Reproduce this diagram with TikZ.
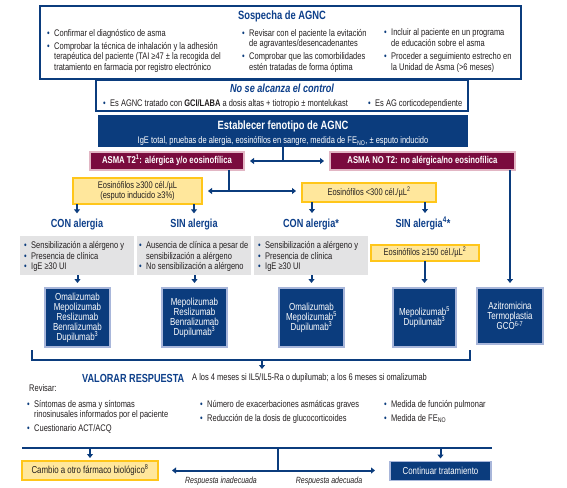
\documentclass[tikz,border=0pt]{standalone}
\usepackage{fontspec}
\setmainfont{Liberation Sans}[FakeStretch=0.78]
\usetikzlibrary{arrows.meta}
\definecolor{navy}{HTML}{0B3C7D}
\definecolor{tblue}{HTML}{0D3F8A}
\definecolor{maroon}{HTML}{7A0B3E}
\definecolor{pinkb}{HTML}{E2B6C4}
\definecolor{yelf}{HTML}{FFE79C}
\definecolor{yelb}{HTML}{FFC61A}
\definecolor{grayf}{HTML}{E3E3E4}
\definecolor{lav}{HTML}{A8B6DA}
\definecolor{txtc}{HTML}{231F20}
\newcommand\bu{\makebox[7pt][l]{\textcolor{navy}{\textbullet}}}
\newcommand\ind{\hspace*{7pt}}
\newcommand\fs[2]{\fontsize{#1}{#2}\selectfont}
\newcommand\sups[1]{\smash{\textsuperscript{#1}}}
\newcommand\subs[1]{\smash{\textsubscript{#1}}}
\begin{document}
\begin{tikzpicture}[x=1pt,y=-1pt,
  txt/.style={inner sep=0pt, anchor=north west, align=left, text=txtc, font=\fs{9.6}{10.7}, execute at begin node=\strut},
  box/.style={inner sep=0pt, outer sep=0pt},
  frame/.style={box, draw=navy, line width=1.4pt, fill=white},
  darkb/.style={box, fill=navy, draw=lav, line width=1.5pt, text=white, align=center, font=\fs{10.2}{10}},
  pinkbox/.style={box, fill=maroon, draw=pinkb, line width=1.8pt, text=white, font=\bfseries\fs{9.9}{10}},
  yelbox/.style={box, fill=yelf, draw=yelb, line width=1.8pt, text=txtc, align=center, font=\fs{9.6}{10.5}},
  graybox/.style={box, fill=grayf},
  lab/.style={inner sep=0pt, text=tblue, font=\bfseries\fs{11.7}{12}},
  conn/.style={draw=navy, line width=2pt},
  arr/.style={conn, -{Triangle[length=4pt,width=6pt]}},
  dbl/.style={conn, {Triangle[length=4pt,width=6pt]}-{Triangle[length=4pt,width=6pt]}}
]
\useasboundingbox[fill=white] (0,0) rectangle (567,487);

% top box
\node[frame, minimum width=481, minimum height=73] (top) at (280.5,42.5) {};
\node[lab, font=\bfseries\fs{12}{12}] (toptitle) at (282,16) {Sospecha de AGNC};
\node[txt] (c1a) at (47,28.8) {\bu Confirmar el diagnóstico de asma};
\node[txt] (c1b) at (47,41.8) {\bu Comprobar la técnica de inhalación y la adhesión\\\ind terapéutica del paciente (TAI ≥47 ± la recogida del\\\ind tratamiento en farmacia por registro electrónico};
\node[txt] (c2a) at (242,28.8) {\bu Revisar con el paciente la evitación\\\ind de agravantes/desencadenantes};
\node[txt] (c2b) at (242,52.8) {\bu Comprobar que las comorbilidades\\\ind estén tratadas de forma óptima};
\node[txt] (c3a) at (384,28.8) {\bu Incluir al paciente en un programa\\\ind de educación sobre el asma};
\node[txt] (c3b) at (384,52.8) {\bu Proceder a seguimiento estrecho en\\\ind la Unidad de Asma (>6 meses)};

% no se alcanza
\node[frame, minimum width=372, minimum height=31] (nose) at (282,95.5) {};
\draw[conn, line width=1.4pt] (top.south -| nose.north) -- (nose.north);
\node[lab, font=\bfseries\itshape\fs{11.7}{12}] (nosetitle) at (282,88) {No se alcanza el control};
\node[txt] (n1) at (103,98.8) {\bu Es AGNC tratado con \textbf{GCI/LABA} a dosis altas + tiotropio ± montelukast};
\node[txt] (n2) at (368,98.8) {\bu Es AG corticodependiente};

% fenotipo
\node[box, fill=navy, minimum width=370, minimum height=32] (fen) at (283,131) {};
\node[inner sep=0pt, text=white, font=\bfseries\fs{12}{12}] (fent) at (283,126) {Establecer fenotipo de AGNC};
\node[inner sep=0pt, text=white, font=\fs{9.6}{10}] (fens) at (283,141) {IgE total, pruebas de alergia, eosinófilos en sangre, medida de FE\subs{NO}, ± esputo inducido};

% T2 boxes
\node[pinkbox, minimum width=154, minimum height=18] (t2) at (167,161) {ASMA T2\sups{1}: alérgica y/o eosinofílica};
\node[pinkbox, minimum width=185, minimum height=18] (not2) at (422.5,161) {ASMA NO T2: no alérgica/no eosinofílica};
\draw[conn] (fen.south) -- (fen.south |- t2.east);
\draw[dbl] ([xshift=6pt]t2.east) -- ([xshift=-6pt]not2.west);

% eosinophil boxes
\node[yelbox, minimum width=129, minimum height=26] (e300) at (137.5,191) {Eosinófilos ≥300 cél./µL\\(esputo inducido ≥3\%)};
\node[yelbox, minimum width=134, minimum height=19] (e3l) at (369,192.5) {Eosinófilos <300 cél./µL\sups{2}};
\coordinate (j2) at (229,191);
\draw[conn] (t2.south -| j2) -- (j2);
\draw[dbl] ([xshift=6pt]e300.east) -- ([xshift=-6pt]e3l.west |- e300.east);

% labels
\node[lab] (con1) at (77,224) {CON alergia};
\node[lab] (sin1) at (194,224) {SIN alergia};
\node[lab] (con2) at (311,224) {CON alergia*};
\node[lab] (sin2) at (423,224) {SIN alergia\sups{4}*};
\draw[arr, shorten >=5pt] (e300.south -| con1.north) -- (con1.north);
\draw[arr, shorten >=5pt] (e300.south -| sin1.north) -- (sin1.north);
\draw[arr, shorten >=5pt] (e3l.south -| 312,0) -- (312,218);
\draw[arr, shorten >=5pt] (e3l.south -| 425,0) -- (425,218);

% gray boxes
\node[graybox, minimum width=114, minimum height=39] (g1) at (77,255.5) {};
\node[graybox, minimum width=114, minimum height=39] (g2) at (194,255.5) {};
\node[graybox, minimum width=114, minimum height=39] (g3) at (311,255.5) {};
\node[txt, font=\fs{9.6}{10.5}] (g1t) at (24,241.6) {\bu Sensibilización a alérgeno y\\\bu Presencia de clínica\\\bu IgE ≥30 UI};
\node[txt, font=\fs{9.6}{10.5}] (g2t) at (139,241.6) {\bu Ausencia de clínica a pesar de\\\ind sensibilización a alérgeno\\\bu No sensibilización a alérgeno};
\node[txt, font=\fs{9.6}{10.5}] (g3t) at (258,241.6) {\bu Sensibilización a alérgeno y\\\bu Presencia de clínica\\\bu IgE ≥30 UI};
\node[yelbox, minimum width=108, minimum height=16] (e150) at (425,253) {Eosinófilos ≥150 cél./µL\sups{2}};

% drug boxes
\node[darkb, minimum width=65, minimum height=59] (d1) at (77.5,317.5) {Omalizumab\\Mepolizumab\\Reslizumab\\Benralizumab\\Dupilumab\sups{3}};
\node[darkb, minimum width=65, minimum height=59] (d2) at (194.5,317.5) {Mepolizumab\\Reslizumab\\Benralizumab\\Dupilumab\sups{3}};
\node[darkb, minimum width=65, minimum height=59] (d3) at (311.5,317.5) {Omalizumab\\Mepolizumab\sups{5}\\Dupilumab\sups{3}};
\node[darkb, minimum width=63, minimum height=59] (d4) at (424.5,317.5) {Mepolizumab\sups{5}\\Dupilumab\sups{3}};
\node[darkb, minimum width=66, minimum height=56] (d5) at (510,316) {Azitromicina\\Termoplastia\\GCO\sups{6-7}};
\draw[arr, shorten >=5pt] (g1.south -| d1.north) -- (d1.north);
\draw[arr, shorten >=5pt] (g2.south -| d2.north) -- (d2.north);
\draw[arr, shorten >=5pt] (g3.south -| d3.north) -- (d3.north);
\draw[arr, shorten >=5pt] (e150.south -| d4.north) -- (d4.north);
\draw[arr, shorten >=5pt] (not2.south -| d5.north) -- (d5.north);

% bracket
\coordinate (bl) at (32,350);
\coordinate (blc) at (32,360);
\coordinate (brc) at (470,360);
\coordinate (br) at (470,350);
\coordinate (bm) at (262,360);
\coordinate (bt) at (262,369);
\draw[conn, line join=miter] (bl) -- (blc) -- (brc) -- (br);
\draw[arr] (bm) -- (bt);

% valorar
\node[lab, anchor=west, font=\bfseries\fs{11.7}{12}] (val) at (82,378) {VALORAR RESPUESTA};
\node[inner sep=0pt, anchor=west, text=txtc, font=\fs{9.6}{10}] (valb) at (192,378) {A los 4 meses si IL5/IL5-Ra o dupilumab; a los 6 meses si omalizumab};
\node[inner sep=0pt, anchor=west, text=txtc, font=\fs{9.6}{10}] (rev) at (29,388) {Revisar:};
\node[txt] (r1a) at (27,399.8) {\bu Síntomas de asma y síntomas\\\ind rinosinusales informados por el paciente};
\node[txt] (r1b) at (27,423.8) {\bu Cuestionario ACT/ACQ};
\node[txt] (r2a) at (200,399.8) {\bu Número de exacerbaciones asmáticas graves};
\node[txt] (r2b) at (200,413.8) {\bu Reducción de la dosis de glucocorticoides};
\node[txt] (r3a) at (384,399.8) {\bu Medida de función pulmonar};
\node[txt] (r3b) at (384,413.8) {\bu Medida de FE\subs{NO}};

% bottom
\node[yelbox, minimum width=136, minimum height=19, font=\fs{10.1}{10}] (cambio) at (90,470.5) {Cambio a otro fármaco biológico\sups{8}};
\node[darkb, minimum width=101, minimum height=19, font=\fs{10.1}{10}] (cont) at (440.5,471) {Continuar tratamiento};
\coordinate (ll) at (22,448);
\coordinate (lr) at (492,448);
\coordinate (lm) at (278,448);
\draw[conn] (ll) -- (lr);
\draw[arr, shorten >=3pt] (cambio.north |- ll) -- (cambio.north);
\draw[arr, shorten >=3pt] (cont.north |- ll) -- (cont.north);
\draw[conn] (lm) -- (lm |- cambio.east);
\draw[dbl] ([xshift=14pt]cambio.east) -- ([xshift=-15pt]cont.west |- cambio.east);
\node[inner sep=0pt, text=txtc, font=\itshape\fs{9}{9}] (ri) at (221,481) {Respuesta inadecuada};
\node[inner sep=0pt, text=txtc, font=\itshape\fs{9}{9}] (ra) at (329,481) {Respuesta adecuada};
\end{tikzpicture}
\end{document}
